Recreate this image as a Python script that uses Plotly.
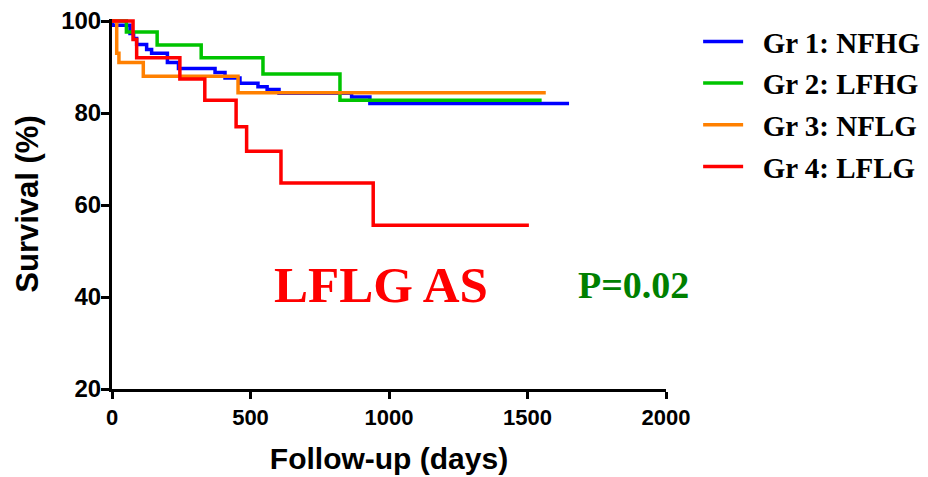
import plotly.graph_objects as go

# Kaplan-Meier survival steps (day of event, survival % after event)
groups = ["Gr 1: NFHG", "Gr 2: LFHG", "Gr 3: NFLG", "Gr 4: LFLG"]
colors = ["#0000FF", "#00C400", "#FF8000", "#FF0000"]

nfhg_days = [0, 2, 65, 78, 89, 125, 143, 200, 240, 372, 408, 462, 527, 560, 603, 865, 931, 1650]
nfhg_surv = [100, 99.1, 97.3, 96.2, 94.9, 93.8, 93.0, 91.0, 89.7, 88.8, 87.6, 86.5, 85.7, 85.1, 84.3, 83.5, 82.1, 82.1]

lfhg_days = [0, 52, 163, 322, 545, 823, 1551]
lfhg_surv = [100, 97.6, 94.8, 92.0, 88.5, 82.8, 82.8]

nflg_days = [0, 17, 25, 113, 455, 1566]
nflg_surv = [100, 93.0, 91.0, 88.0, 84.4, 84.4]

lflg_days = [0, 76, 89, 245, 335, 448, 486, 610, 943, 1505]
lflg_surv = [100, 96.0, 92.0, 87.4, 82.8, 77.0, 71.7, 64.8, 55.6, 55.6]

x_ticks = [0, 500, 1000, 1500, 2000]
y_ticks = [20, 40, 60, 80, 100]

series = [
    (nfhg_days, nfhg_surv),
    (lfhg_days, lfhg_surv),
    (nflg_days, nflg_surv),
    (lflg_days, lflg_surv),
]

# a little space between the legend swatch and its label
pad = "\u00a0\u00a0"

fig = go.Figure()
for name, color, (days, surv) in zip(groups, colors, series):
    fig.add_trace(go.Scatter(
        x=days, y=surv, name=f"{pad}<b>{name}</b>", legendgroup=name,
        mode="lines", line=dict(color=color, width=3.5, shape="hv"),
    ))

sans = "Liberation Sans"
serif = "Liberation Serif"

fig.add_annotation(x=971, y=42.6, xref="x", yref="y", text="<b>LFLG AS</b>",
                   showarrow=False, font=dict(family=serif, size=51, color="#FF0000"))
fig.add_annotation(x=1881, y=42.6, xref="x", yref="y", text="<b>P=0.02</b>",
                   showarrow=False, font=dict(family=serif, size=38, color="#008000"))

fig.update_layout(
    width=928, height=477,
    margin=dict(l=112, r=262, t=19, b=88, autoexpand=False),
    paper_bgcolor="white", plot_bgcolor="white",
    showlegend=True,
    legend=dict(
        x=1.058, xanchor="left", y=1.008, yanchor="top",
        font=dict(family=serif, size=29, color="black"),
        itemwidth=40, tracegroupgap=1, bgcolor="rgba(0,0,0,0)",
    ),
)

fig.update_xaxes(
    range=[0, 2000], tickvals=x_ticks, ticktext=[f"<b>{v}</b>" for v in x_ticks],
    showgrid=False, zeroline=False,
    showline=True, linecolor="black", linewidth=3,
    ticks="outside", ticklen=7, tickwidth=3, tickcolor="black",
    tickfont=dict(family=sans, size=22, color="black"),
    title=dict(text="<b>Follow-up (days)</b>", standoff=19,
               font=dict(family=sans, size=30, color="black")),
)
fig.update_yaxes(
    range=[20, 100.45], tickvals=y_ticks, ticktext=[f"<b>{v}</b>" for v in y_ticks],
    showgrid=False, zeroline=False,
    showline=True, linecolor="black", linewidth=3,
    ticks="outside", ticklen=8, tickwidth=3, tickcolor="black",
    tickfont=dict(family=sans, size=24, color="black"),
    ticklabelstandoff=-5,
    title=dict(text="<b>Survival (%)</b>", standoff=14,
               font=dict(family=sans, size=31, color="black")),
)

fig.write_html("out.html")
